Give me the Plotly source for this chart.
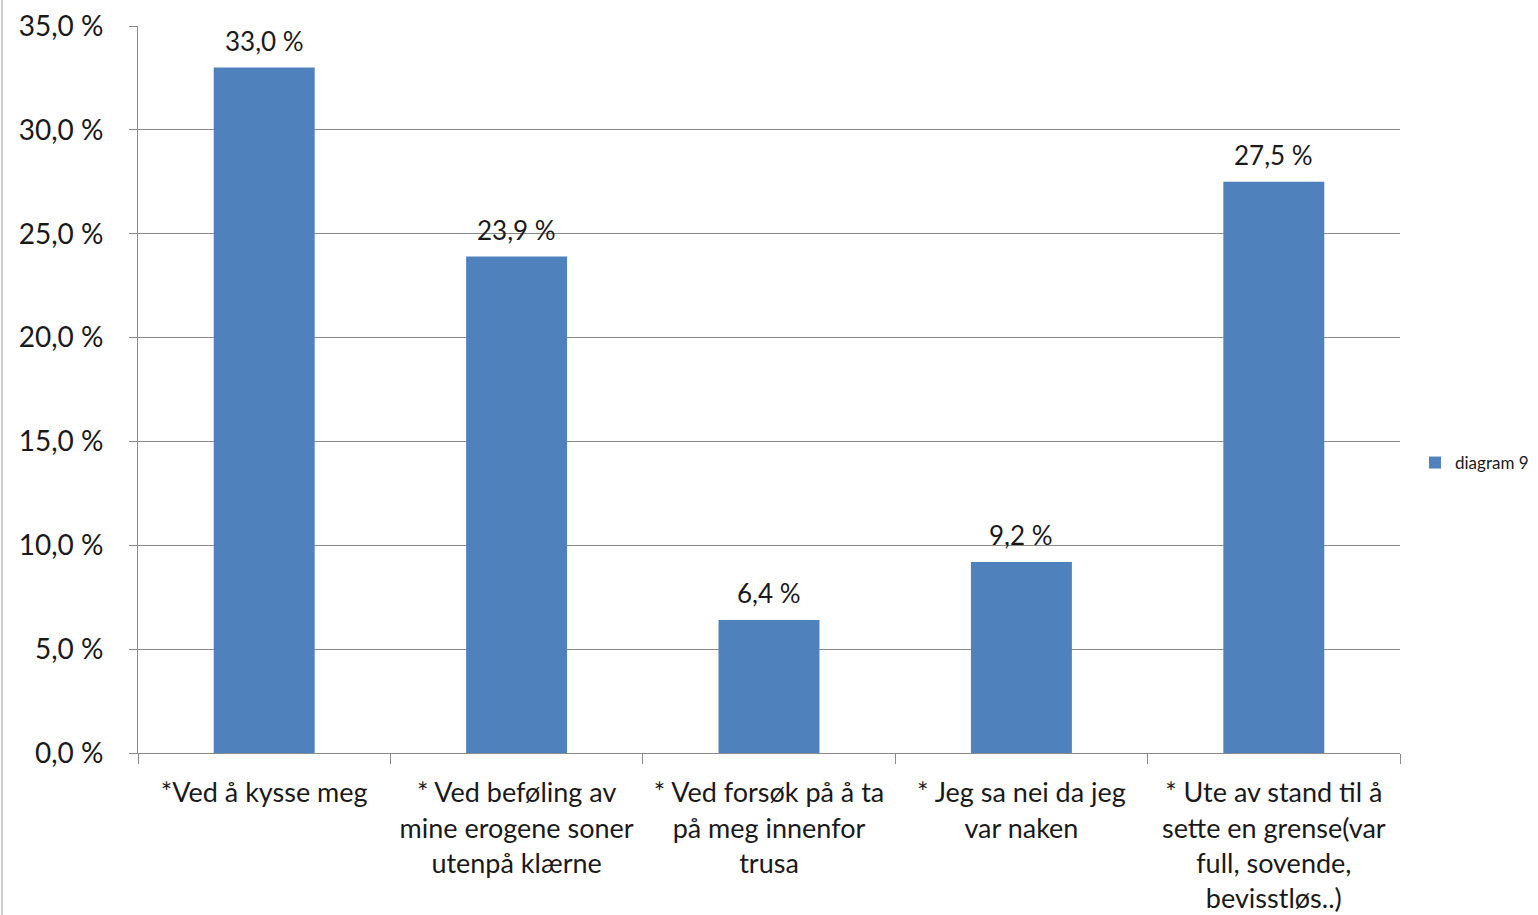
import plotly.graph_objects as go

categories = [
    "*Ved å kysse meg",
    "* Ved beføling av<br>mine erogene soner<br>utenpå klærne",
    "* Ved forsøk på å ta<br>på meg innenfor<br>trusa",
    "* Jeg sa nei da jeg<br>var naken",
    "* Ute av stand til å<br>sette en grense(var<br>full, sovende,<br>bevisstløs..)",
]
values = [33.0, 23.9, 6.4, 9.2, 27.5]
series_name = "diagram 9"
y_ticks = [0, 5, 10, 15, 20, 25, 30, 35]
y_tick_labels = ["0,0 %", "5,0 %", "10,0 %", "15,0 %", "20,0 %", "25,0 %", "30,0 %", "35,0 %"]

FONT = "Lato, Open Sans, sans-serif"
TXT = "#1a1a1a"
GRID = "#8a8a8a"

fig = go.Figure()
fig.add_trace(go.Bar(
    x=categories,
    y=values,
    name=series_name,
    marker=dict(color="#4f81bd", line=dict(width=0)),
    showlegend=True,
))

annotations = [
    dict(
        x=c, y=v, xref="x", yref="y",
        text=f"{v:.1f} %".replace(".", ","),
        showarrow=False, yanchor="bottom", yshift=9,
        font=dict(family=FONT, size=26, color=TXT),
    )
    for c, v in zip(categories, values)
]

fig.update_layout(
    width=1538,
    height=915,
    margin=dict(l=138, r=138, t=26, b=162, pad=0, autoexpand=False),
    paper_bgcolor="white",
    plot_bgcolor="white",
    bargap=0.6,
    font=dict(family=FONT, color=TXT),
    annotations=annotations,
    legend=dict(
        x=(1415 - 138) / 1262, y=(753 - 463) / 727, xanchor="left", yanchor="middle",
        font=dict(family=FONT, size=17, color=TXT),
        itemwidth=30,
        bgcolor="rgba(0,0,0,0)",
        tracegroupgap=0,
    ),
    xaxis=dict(
        type="category",
        automargin=False,
        tickson="boundaries",
        ticks="outside",
        ticklen=10,
        tickcolor=GRID,
        showline=True,
        linecolor=GRID,
        linewidth=1,
        showgrid=False,
        tickfont=dict(family=FONT, size=27, color=TXT),
        tickangle=0,
        ticklabelstandoff=16,
    ),
    yaxis=dict(
        range=[0, 35],
        automargin=False,
        tickvals=y_ticks,
        ticktext=y_tick_labels,
        ticks="outside",
        ticklen=8,
        tickcolor=GRID,
        showline=True,
        linecolor=GRID,
        linewidth=1,
        showgrid=True,
        gridcolor=GRID,
        gridwidth=1,
        zeroline=False,
        tickfont=dict(family=FONT, size=28, color=TXT),
        ticklabelstandoff=20,
    ),
    shapes=[dict(
        type="line", xref="paper", yref="paper",
        x0=(2 - 138) / 1262, x1=(2 - 138) / 1262,
        y0=-162 / 727, y1=1 + 26 / 727,
        line=dict(color="#9a9a9a", width=1),
    )],
)

fig.write_html(
    "out.html",
    config={"displayModeBar": False},
    post_script="document.body.style.margin='0';",
)
